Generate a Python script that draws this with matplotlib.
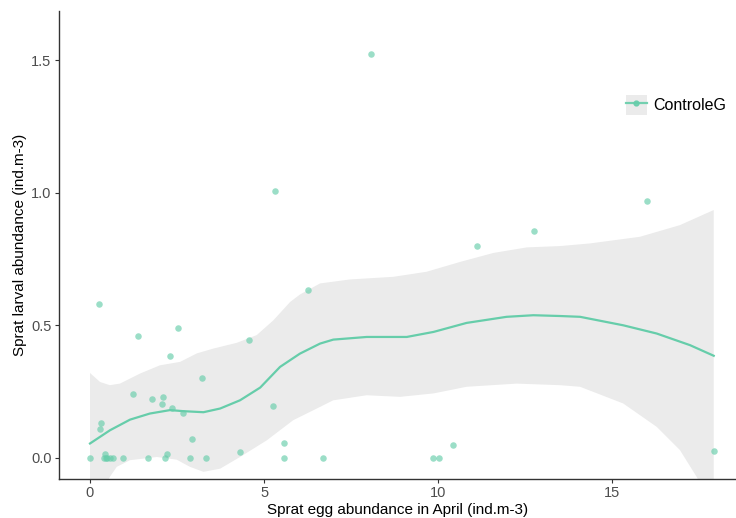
import numpy as np
import matplotlib
matplotlib.use('Agg')
import matplotlib.pyplot as plt
from matplotlib.lines import Line2D
from matplotlib.patches import Patch

plt.rcParams['font.family'] = ['Liberation Sans', 'DejaVu Sans']

# observations
egg = [0.0, 0.27, 0.29, 0.31, 0.40, 0.42, 0.46, 0.50, 0.57, 0.65, 0.94, 1.24, 1.38,
       1.67, 1.77, 2.06, 2.10, 2.16, 2.20, 2.30, 2.37, 2.52, 2.66, 2.87, 2.93, 3.22,
       3.34, 4.31, 4.58, 5.25, 5.32, 5.57, 5.57, 6.27, 6.68, 8.07, 9.85, 10.02, 10.44,
       11.13, 12.77, 16.0, 17.92]
larva = [0.0, 0.578, 0.109, 0.131, 0.0, 0.012, 0.0, 0.0, 0.0, 0.0, 0.0, 0.238, 0.46,
         0.0, 0.221, 0.202, 0.230, 0.0, 0.015, 0.382, 0.187, 0.487, 0.168, 0.0, 0.069, 0.302,
         0.0, 0.019, 0.443, 0.195, 1.005, 0.053, 0.0, 0.632, 0.0, 1.521, 0.0, 0.0, 0.048,
         0.80, 0.853, 0.969, 0.025]

# loess fit
fit_x = [0, 0.575, 1.15, 1.72, 2.30, 2.68, 3.26, 3.74, 4.31, 4.89, 5.46, 6.03, 6.61,
         6.99, 7.95, 9.10, 9.87, 10.82, 11.97, 12.74, 13.51, 14.08, 15.32, 16.28, 17.24, 17.92]
fit_y = [0.053, 0.103, 0.143, 0.166, 0.179, 0.175, 0.171, 0.185, 0.216, 0.264, 0.342,
         0.392, 0.430, 0.445, 0.455, 0.455, 0.474, 0.508, 0.531, 0.537, 0.534, 0.531,
         0.499, 0.468, 0.424, 0.384]

# confidence band
up_x = [0, 0.29, 0.57, 0.86, 1.44, 2.01, 2.59, 3.07, 3.54, 4.22, 4.79, 5.27, 5.75, 6.03,
        6.61, 7.47, 8.72, 9.67, 10.63, 11.59, 12.55, 13.51, 14.37, 15.8, 16.95, 17.92]
up_y = [0.319, 0.285, 0.273, 0.279, 0.317, 0.348, 0.361, 0.393, 0.411, 0.433, 0.462,
        0.518, 0.587, 0.615, 0.657, 0.672, 0.682, 0.701, 0.738, 0.772, 0.793, 0.798,
        0.808, 0.833, 0.877, 0.934]
lo_x = [0, 0.3, 0.57, 0.77, 1.15, 1.92, 2.49, 2.87, 3.26, 3.74, 4.31, 5.08, 5.84, 6.61,
        6.99, 7.95, 8.91, 9.87, 10.82, 12.26, 13.51, 14.08, 15.32, 16.28, 16.95, 17.43, 17.92]
lo_y = [-0.3, -0.15, -0.073, -0.035, -0.01, 0.002, -0.008, -0.035, -0.054, -0.042, 0.002,
        0.065, 0.141, 0.191, 0.216, 0.235, 0.229, 0.242, 0.267, 0.279, 0.273, 0.267,
        0.204, 0.116, 0.028, -0.073, -0.2]

col = '#66CDAA'
grey = '#4D4D4D'

fig = plt.figure(figsize=(7.36, 5.18), dpi=100)
ax = fig.add_axes([58.5 / 736, 39 / 518, 677.5 / 736, 468 / 518])

band_x = np.concatenate([up_x, lo_x[::-1]])
band_y = np.concatenate([up_y, lo_y[::-1]])
ax.fill(band_x, band_y, color='#EBEBEB', lw=0, zorder=1)
ax.scatter(egg, larva, s=22, color=col, alpha=0.65, lw=0, zorder=2)
ax.plot(fit_x, fit_y, color=col, lw=1.6, zorder=3, solid_joinstyle='round')

ax.set_xlim(-0.905, 18.56)
ax.set_ylim(-0.081, 1.685)
ax.set_xticks([0, 5, 10, 15])
ax.set_xticklabels(['0', '5', '10', '15'])
ax.set_yticks([0.0, 0.5, 1.0, 1.5])
ax.set_yticklabels(['0.0', '0.5', '1.0', '1.5'])
ax.tick_params(colors='#333333', labelcolor=grey, labelsize=10.5, length=3, width=0.8, pad=2)
for s in ['top', 'right']:
    ax.spines[s].set_visible(False)
for s in ['left', 'bottom']:
    ax.spines[s].set_color('#333333')
    ax.spines[s].set_linewidth(1.0)

ax.set_xlabel('Sprat egg abundance in April (ind.m-3)', fontsize=11, labelpad=2.5)
ax.set_ylabel('Sprat larval abundance (ind.m-3)', fontsize=11, labelpad=3)

key = (Patch(facecolor='#EBEBEB', edgecolor='none'),
       Line2D([], [], color=col, lw=1.6, marker='o', markersize=3.5, alpha=0.9))
ax.legend([key], ['ControleG'], loc='upper left', bbox_to_anchor=(0.826, 0.838),
          frameon=False, fontsize=11.5, handlelength=1.3, handleheight=1.6,
          handletextpad=0.4, borderpad=0)

fig.savefig('out.png', dpi=100)
